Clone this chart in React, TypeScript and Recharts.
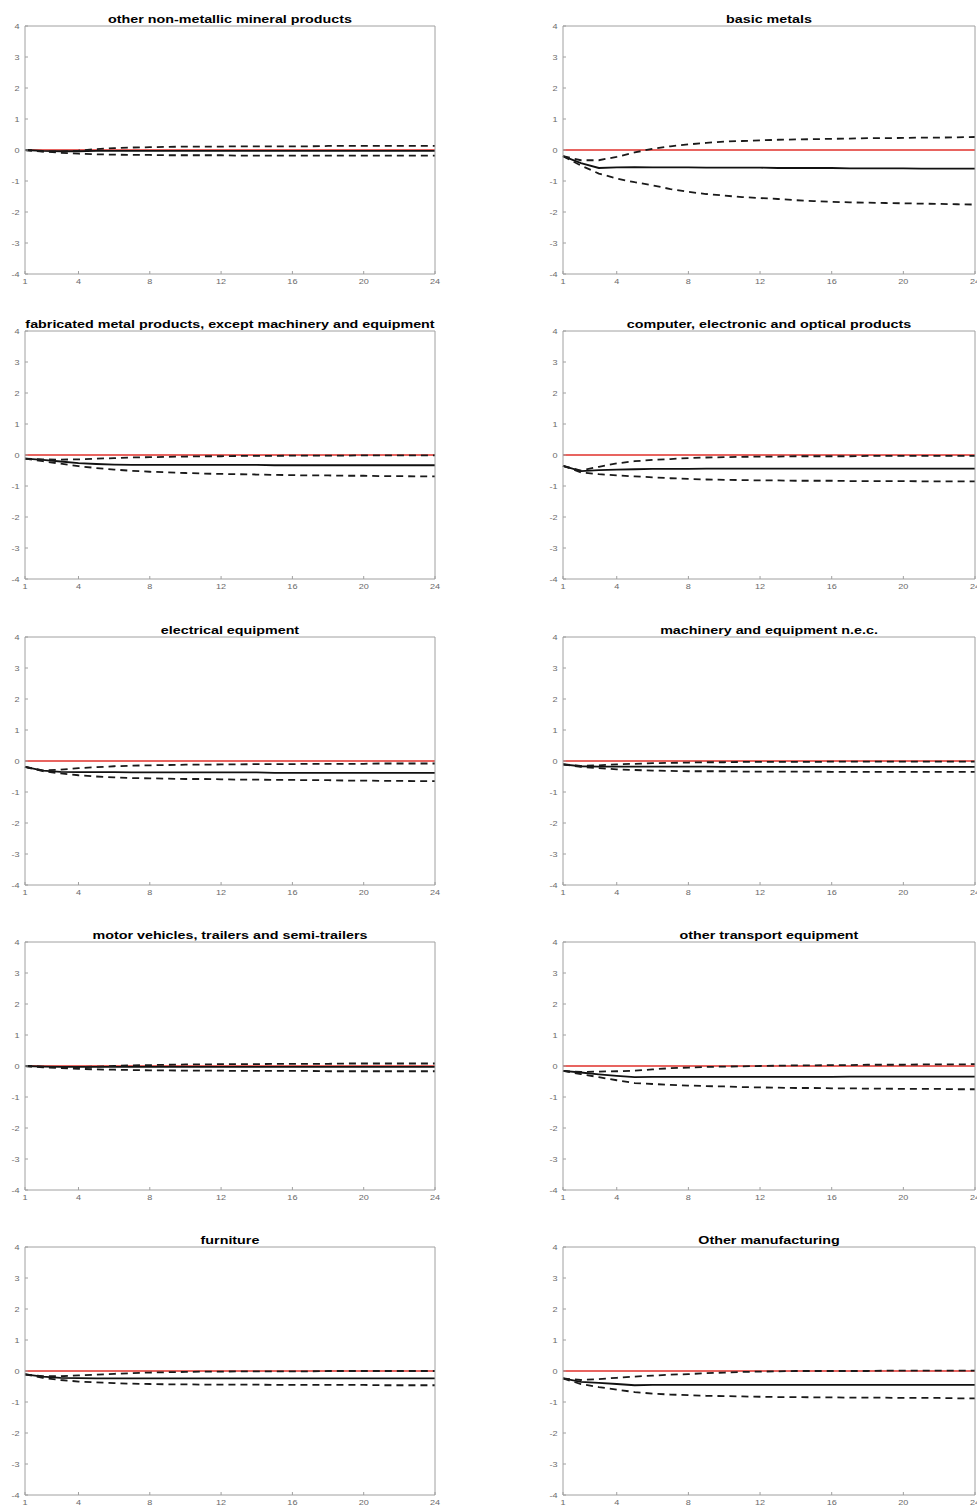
import React from "react";
import { LineChart, Line, XAxis, YAxis, ReferenceLine } from "recharts";

const horizons = [1, 2, 3, 4, 5, 6, 7, 8, 9, 10, 11, 12, 13, 14, 15, 16, 17, 18, 19, 20, 21, 22, 23, 24];
const xTicks = [1, 4, 8, 12, 16, 20, 24];
const yTicks = [-4, -3, -2, -1, 0, 1, 2, 3, 4];

const titles = [
  "other non-metallic mineral products",
  "basic metals",
  "fabricated metal products, except machinery and equipment",
  "computer, electronic and optical products",
  "electrical equipment",
  "machinery and equipment n.e.c.",
  "motor vehicles, trailers and semi-trailers",
  "other transport equipment",
  "furniture",
  "Other manufacturing",
];

const nonMetallicUpper = [0.0, -0.04, -0.05, -0.02, 0.03, 0.06, 0.08, 0.09, 0.1, 0.11, 0.11, 0.11, 0.12, 0.12, 0.12, 0.12, 0.12, 0.13, 0.13, 0.13, 0.13, 0.13, 0.13, 0.13];
const nonMetallicMedian = [0.0, -0.03, -0.04, -0.04, -0.03, -0.03, -0.03, -0.03, -0.03, -0.03, -0.03, -0.03, -0.03, -0.03, -0.03, -0.03, -0.03, -0.03, -0.03, -0.03, -0.03, -0.03, -0.03, -0.03];
const nonMetallicLower = [0.0, -0.05, -0.09, -0.12, -0.14, -0.15, -0.16, -0.16, -0.17, -0.17, -0.17, -0.17, -0.18, -0.18, -0.18, -0.18, -0.18, -0.18, -0.18, -0.18, -0.18, -0.18, -0.18, -0.18];

const basicMetalsUpper = [-0.2, -0.33, -0.33, -0.22, -0.08, 0.04, 0.12, 0.18, 0.23, 0.27, 0.29, 0.31, 0.33, 0.34, 0.35, 0.36, 0.37, 0.38, 0.38, 0.39, 0.4, 0.4, 0.41, 0.42];
const basicMetalsMedian = [-0.2, -0.42, -0.58, -0.56, -0.55, -0.56, -0.56, -0.56, -0.57, -0.57, -0.57, -0.57, -0.58, -0.58, -0.58, -0.58, -0.59, -0.59, -0.59, -0.59, -0.6, -0.6, -0.6, -0.6];
const basicMetalsLower = [-0.2, -0.5, -0.76, -0.92, -1.04, -1.14, -1.26, -1.35, -1.42, -1.47, -1.52, -1.55, -1.58, -1.62, -1.65, -1.67, -1.69, -1.7, -1.71, -1.72, -1.73, -1.74, -1.75, -1.76];

const fabricatedUpper = [-0.12, -0.14, -0.15, -0.14, -0.12, -0.1, -0.08, -0.07, -0.06, -0.05, -0.04, -0.04, -0.03, -0.03, -0.03, -0.02, -0.02, -0.02, -0.02, -0.01, -0.01, -0.01, -0.01, -0.01];
const fabricatedMedian = [-0.12, -0.16, -0.21, -0.26, -0.29, -0.31, -0.32, -0.32, -0.32, -0.32, -0.32, -0.32, -0.32, -0.32, -0.33, -0.33, -0.33, -0.33, -0.33, -0.33, -0.33, -0.33, -0.33, -0.33];
const fabricatedLower = [-0.12, -0.2, -0.28, -0.36, -0.42, -0.47, -0.51, -0.54, -0.56, -0.58, -0.6, -0.61, -0.62, -0.63, -0.64, -0.65, -0.66, -0.66, -0.67, -0.67, -0.68, -0.68, -0.69, -0.69];

const computerUpper = [-0.35, -0.5, -0.38, -0.27, -0.2, -0.16, -0.13, -0.1, -0.08, -0.07, -0.06, -0.05, -0.05, -0.04, -0.04, -0.04, -0.04, -0.03, -0.03, -0.03, -0.03, -0.03, -0.03, -0.03];
const computerMedian = [-0.35, -0.52, -0.49, -0.47, -0.46, -0.45, -0.45, -0.45, -0.44, -0.44, -0.44, -0.44, -0.44, -0.44, -0.44, -0.44, -0.44, -0.44, -0.44, -0.44, -0.44, -0.44, -0.44, -0.44];
const computerLower = [-0.35, -0.56, -0.62, -0.66, -0.69, -0.72, -0.75, -0.77, -0.79, -0.8, -0.81, -0.82, -0.82, -0.83, -0.83, -0.83, -0.84, -0.84, -0.84, -0.84, -0.85, -0.85, -0.85, -0.85];

const electricalUpper = [-0.19, -0.3, -0.28, -0.23, -0.2, -0.17, -0.15, -0.14, -0.13, -0.12, -0.12, -0.11, -0.11, -0.1, -0.1, -0.1, -0.09, -0.09, -0.09, -0.09, -0.08, -0.08, -0.08, -0.08];
const electricalMedian = [-0.19, -0.31, -0.35, -0.36, -0.36, -0.36, -0.37, -0.37, -0.37, -0.37, -0.37, -0.37, -0.37, -0.37, -0.38, -0.38, -0.38, -0.38, -0.38, -0.38, -0.38, -0.38, -0.38, -0.38];
const electricalLower = [-0.19, -0.33, -0.4, -0.46, -0.5, -0.53, -0.55, -0.56, -0.57, -0.58, -0.58, -0.59, -0.6, -0.6, -0.61, -0.61, -0.62, -0.62, -0.63, -0.63, -0.64, -0.64, -0.65, -0.65];

const machineryUpper = [-0.11, -0.16, -0.14, -0.11, -0.09, -0.07, -0.06, -0.05, -0.04, -0.04, -0.03, -0.03, -0.03, -0.03, -0.03, -0.02, -0.02, -0.02, -0.02, -0.02, -0.02, -0.02, -0.02, -0.02];
const machineryMedian = [-0.11, -0.17, -0.18, -0.18, -0.18, -0.18, -0.18, -0.18, -0.18, -0.19, -0.19, -0.19, -0.19, -0.19, -0.19, -0.19, -0.19, -0.19, -0.19, -0.19, -0.19, -0.19, -0.19, -0.19];
const machineryLower = [-0.11, -0.19, -0.23, -0.27, -0.29, -0.31, -0.32, -0.33, -0.33, -0.33, -0.34, -0.34, -0.34, -0.34, -0.34, -0.35, -0.35, -0.35, -0.35, -0.35, -0.35, -0.35, -0.35, -0.35];

const motorUpper = [0.0, -0.02, -0.04, -0.04, -0.02, 0.0, 0.02, 0.03, 0.04, 0.05, 0.05, 0.06, 0.06, 0.06, 0.07, 0.07, 0.07, 0.07, 0.08, 0.08, 0.08, 0.08, 0.08, 0.08];
const motorMedian = [0.0, -0.02, -0.03, -0.03, -0.03, -0.03, -0.03, -0.03, -0.03, -0.03, -0.03, -0.03, -0.03, -0.03, -0.03, -0.03, -0.03, -0.03, -0.03, -0.03, -0.03, -0.03, -0.03, -0.03];
const motorLower = [0.0, -0.04, -0.07, -0.09, -0.11, -0.12, -0.13, -0.14, -0.14, -0.15, -0.15, -0.15, -0.16, -0.16, -0.16, -0.16, -0.16, -0.17, -0.17, -0.17, -0.17, -0.17, -0.17, -0.17];

const transportUpper = [-0.16, -0.19, -0.18, -0.17, -0.15, -0.11, -0.07, -0.05, -0.03, -0.02, -0.01, 0.0, 0.01, 0.02, 0.02, 0.03, 0.03, 0.04, 0.04, 0.04, 0.05, 0.05, 0.05, 0.06];
const transportMedian = [-0.16, -0.21, -0.27, -0.32, -0.36, -0.35, -0.35, -0.35, -0.35, -0.35, -0.35, -0.35, -0.35, -0.35, -0.35, -0.35, -0.34, -0.34, -0.34, -0.34, -0.34, -0.34, -0.34, -0.34];
const transportLower = [-0.16, -0.26, -0.36, -0.46, -0.55, -0.58, -0.61, -0.63, -0.65, -0.66, -0.68, -0.69, -0.7, -0.71, -0.71, -0.72, -0.72, -0.73, -0.73, -0.74, -0.74, -0.74, -0.75, -0.75];

const furnitureUpper = [-0.11, -0.17, -0.17, -0.14, -0.12, -0.09, -0.07, -0.05, -0.04, -0.03, -0.02, -0.02, -0.01, -0.01, -0.01, -0.01, -0.01, 0.0, 0.0, 0.0, 0.0, 0.0, 0.0, 0.0];
const furnitureMedian = [-0.11, -0.18, -0.22, -0.23, -0.24, -0.24, -0.24, -0.24, -0.24, -0.24, -0.24, -0.24, -0.24, -0.24, -0.24, -0.24, -0.24, -0.24, -0.24, -0.24, -0.24, -0.24, -0.24, -0.24];
const furnitureLower = [-0.11, -0.22, -0.29, -0.34, -0.37, -0.39, -0.41, -0.42, -0.43, -0.43, -0.44, -0.44, -0.44, -0.44, -0.45, -0.45, -0.45, -0.45, -0.45, -0.45, -0.46, -0.46, -0.46, -0.46];

const otherMfgUpper = [-0.24, -0.29, -0.26, -0.22, -0.18, -0.15, -0.12, -0.1, -0.07, -0.05, -0.03, -0.02, -0.01, 0.0, 0.0, 0.0, 0.0, 0.0, 0.01, 0.01, 0.01, 0.01, 0.01, 0.01];
const otherMfgMedian = [-0.24, -0.35, -0.38, -0.42, -0.46, -0.45, -0.45, -0.45, -0.45, -0.45, -0.45, -0.45, -0.45, -0.45, -0.45, -0.45, -0.45, -0.45, -0.45, -0.45, -0.45, -0.45, -0.45, -0.45];
const otherMfgLower = [-0.24, -0.42, -0.52, -0.6, -0.68, -0.73, -0.76, -0.78, -0.8, -0.81, -0.82, -0.83, -0.84, -0.84, -0.85, -0.85, -0.86, -0.86, -0.86, -0.87, -0.87, -0.87, -0.88, -0.88];

const panelSeries = [
  [nonMetallicUpper, nonMetallicMedian, nonMetallicLower],
  [basicMetalsUpper, basicMetalsMedian, basicMetalsLower],
  [fabricatedUpper, fabricatedMedian, fabricatedLower],
  [computerUpper, computerMedian, computerLower],
  [electricalUpper, electricalMedian, electricalLower],
  [machineryUpper, machineryMedian, machineryLower],
  [motorUpper, motorMedian, motorLower],
  [transportUpper, transportMedian, transportLower],
  [furnitureUpper, furnitureMedian, furnitureLower],
  [otherMfgUpper, otherMfgMedian, otherMfgLower],
];

const buildData = (s: number[][]) =>
  horizons.map((h, i) => ({ h, upper: s[0][i], median: s[1][i], lower: s[2][i] }));

const AXIS = "#a0a0a0";
const LABEL = "#6a6a6a";
const Y_AXIS_W = 25;
const PLOT_TOP = 26;
const PLOT_H = 248;
const CHART_H = PLOT_TOP + PLOT_H + 20;
const rowTops = [0, 305, 611, 916, 1221];
const cols = [
  { left: 0, width: 445, right: 10 },
  { left: 538, width: 439, right: 2 },
];

const XTick = (props: any) => {
  const { x, y, payload } = props;
  return (
    <text
      transform={`translate(${x},${y + 13}) scale(1.3,1)`}
      textAnchor="middle"
      fontSize={7}
      fontFamily="Liberation Sans, Arial, sans-serif"
      fill={LABEL}
    >
      {payload.value}
    </text>
  );
};

const YTick = (props: any) => {
  const { x, y, payload } = props;
  return (
    <text
      transform={`translate(${x - 8.5},${y + 2.5}) scale(1.3,1)`}
      textAnchor="end"
      fontSize={7}
      fontFamily="Liberation Sans, Arial, sans-serif"
      fill={LABEL}
    >
      {payload.value}
    </text>
  );
};

function Panel({ idx }: { idx: number }) {
  const col = cols[idx % 2];
  const top = rowTops[Math.floor(idx / 2)];
  const plotW = col.width - Y_AXIS_W - col.right;
  const data = buildData(panelSeries[idx]);
  return (
    <div style={{ position: "absolute", left: col.left, top, width: col.width, height: CHART_H }}>
      <LineChart
        width={col.width}
        height={CHART_H}
        data={data}
        margin={{ top: PLOT_TOP - 1, right: col.right - 1, bottom: 0, left: 0 }}
      >
        <XAxis
          dataKey="h"
          type="number"
          domain={[1, 24]}
          ticks={xTicks}
          height={20}
          stroke={AXIS}
          tickSize={-3}
          tickMargin={0}
          tick={<XTick />}
          interval={0}
        />
        <XAxis
          xAxisId="top"
          orientation="top"
          dataKey="h"
          type="number"
          domain={[1, 24]}
          ticks={xTicks}
          height={1}
          stroke={AXIS}
          tickSize={-3}
          tick={false}
          interval={0}
        />
        <YAxis
          type="number"
          domain={[-4, 4]}
          ticks={yTicks}
          width={Y_AXIS_W}
          stroke={AXIS}
          tickSize={-3}
          tickMargin={0}
          tick={<YTick />}
          interval={0}
        />
        <YAxis
          yAxisId="right"
          orientation="right"
          type="number"
          domain={[-4, 4]}
          ticks={yTicks}
          width={1}
          stroke={AXIS}
          tickSize={-3}
          tick={false}
          interval={0}
        />
        <ReferenceLine y={0} stroke="#e0312b" strokeWidth={1.4} />
        <Line dataKey="median" type="linear" stroke="#111" strokeWidth={1.8} dot={false} isAnimationActive={false} />
        <Line dataKey="upper" type="linear" stroke="#1a1a1a" strokeWidth={1.8} strokeDasharray="7 5" dot={false} isAnimationActive={false} />
        <Line dataKey="lower" type="linear" stroke="#1a1a1a" strokeWidth={1.8} strokeDasharray="7 5" dot={false} isAnimationActive={false} />
      </LineChart>
      <div
        style={{
          position: "absolute",
          left: Y_AXIS_W,
          width: plotW,
          top: 13,
          textAlign: "center",
          fontFamily: "'Liberation Sans', Arial, sans-serif",
          fontWeight: "bold",
          fontSize: 11,
          lineHeight: "13px",
          whiteSpace: "nowrap",
          transform: "scaleX(1.3)",
          transformOrigin: "center",
          color: "#000",
        }}
      >
        {titles[idx]}
      </div>
    </div>
  );
}

export default function App() {
  return (
    <div
      style={{
        position: "absolute",
        left: 0,
        top: 0,
        width: 977,
        height: 1506,
        overflow: "hidden",
        background: "#fff",
      }}
    >
      {titles.map((_, i) => (
        <Panel key={i} idx={i} />
      ))}
    </div>
  );
}
